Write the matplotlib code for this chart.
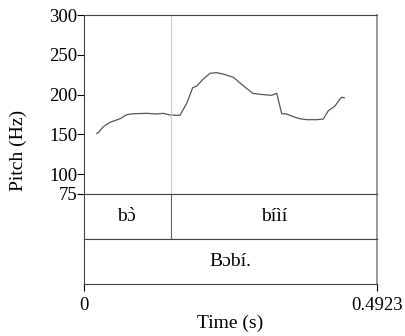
import matplotlib.pyplot as plt

plt.rcParams['font.family'] = ['Liberation Serif', 'DejaVu Serif']
plt.rcParams['mathtext.fontset'] = 'custom'
plt.rcParams['mathtext.rm'] = 'Liberation Serif'
plt.rcParams['mathtext.it'] = 'Liberation Serif'

# pitch track (s, Hz)
tiempo = [0.0213, 0.0240, 0.0324, 0.0437, 0.0605, 0.0717, 0.0828, 0.1053, 0.1221,
          0.1332, 0.1445, 0.1613, 0.1726, 0.1826, 0.1894, 0.2004, 0.2117, 0.2230,
          0.2340, 0.2509, 0.2676, 0.2835, 0.2957, 0.3097, 0.3154, 0.3238, 0.3322,
          0.3406, 0.3517, 0.3629, 0.3742, 0.3910, 0.4021, 0.4105, 0.4162, 0.4217,
          0.4301, 0.4330, 0.4373]
pitch = [151.3, 152.0, 159.6, 165.1, 169.6, 174.7, 175.9, 176.4, 175.6,
         176.4, 174.3, 173.9, 189.0, 208.6, 210.7, 219.5, 226.7, 227.5,
         225.8, 221.7, 211.1, 201.6, 200.3, 199.4, 199.1, 201.6, 175.9,
         175.6, 172.2, 169.6, 168.4, 168.4, 169.3, 179.7, 182.7, 185.6,
         194.4, 196.6, 196.0]

duracion = 0.4923
granica = 0.1457
sylaby = [r"$\mathrm{b}\grave{\mathrm{ɔ}}$", "bíìí"]   # bɔ̀ via mathtext accent
slowo = "Bɔbí."
yticks = [75, 100, 150, 200, 250, 300]

fs_tick = 13.5
fs_txt = 14

fig = plt.figure(figsize=(4.05, 3.36), dpi=100)
L, R = 84 / 405, 377 / 405
W = R - L
ax = fig.add_axes([L, 1 - 194 / 336, W, (194 - 15) / 336])
t1 = fig.add_axes([L, 1 - 239 / 336, W, 45 / 336])
t2 = fig.add_axes([L, 1 - 284 / 336, W, 45 / 336])

ax.plot(tiempo, pitch, color='#555555', lw=0.9)
ax.axvline(granica, color='#cccccc', lw=0.8)
ax.set_xlim(0, duracion)
ax.set_ylim(75, 300)
ax.set_yticks(yticks)
ax.set_yticklabels([str(v) for v in yticks], fontsize=fs_tick)
ax.tick_params(axis='y', length=5, width=0.8, pad=0)
ax.set_xticks([])

for a in (ax, t1, t2):
    for s in a.spines.values():
        s.set_color('#444444')
        s.set_linewidth(0.8)
    a.spines['right'].set_color('#888888')
    a.spines['right'].set_linewidth(1.2)
for a in (t1, t2):
    a.set_xlim(0, duracion)
    a.set_ylim(0, 1)
    a.set_yticks([])

t1.set_xticks([])
t1.axvline(granica, color='#666666', lw=0.8)
t1.text(granica / 2, 0.5, sylaby[0], ha='center', va='center', fontsize=fs_txt)
t1.text((granica + duracion) / 2, 0.5, sylaby[1], ha='center', va='center', fontsize=fs_txt)
t2.text(duracion / 2, 0.5, slowo, ha='center', va='center', fontsize=fs_txt)

t2.set_xticks([0, duracion])
t2.set_xticklabels(["0", "0.4923"], fontsize=fs_tick)
t2.tick_params(axis='x', length=5, width=0.8, pad=4)
t2.set_xlabel("Time (s)", fontsize=fs_txt, labelpad=1)

fig.text(18 / 405, 1 - 150 / 336, "Pitch (Hz)", rotation=90, ha='center', va='center',
         fontsize=fs_txt)

fig.savefig("out.png", dpi=100)
